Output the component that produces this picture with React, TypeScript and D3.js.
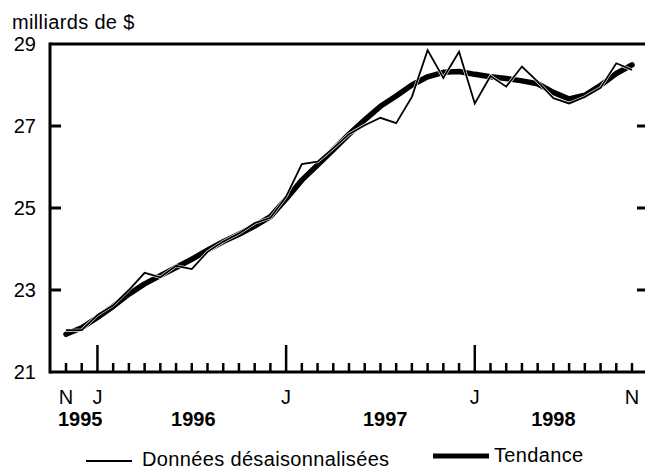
import React from "react";
import * as d3 from "d3";

// Monthly data, Nov 1995 .. Nov 1998 (37 months)
const months = [
  "1995-11", "1995-12",
  "1996-01", "1996-02", "1996-03", "1996-04", "1996-05", "1996-06",
  "1996-07", "1996-08", "1996-09", "1996-10", "1996-11", "1996-12",
  "1997-01", "1997-02", "1997-03", "1997-04", "1997-05", "1997-06",
  "1997-07", "1997-08", "1997-09", "1997-10", "1997-11", "1997-12",
  "1998-01", "1998-02", "1998-03", "1998-04", "1998-05", "1998-06",
  "1998-07", "1998-08", "1998-09", "1998-10", "1998-11",
];

const seasonallyAdjusted = [
  22.02, 22.02, 22.39, 22.63, 23.0, 23.42, 23.31, 23.59, 23.51, 23.93,
  24.18, 24.38, 24.63, 24.76, 25.28, 26.07, 26.13, 26.46, 26.8, 27.02,
  27.2, 27.07, 27.71, 28.85, 28.17, 28.81, 27.55, 28.22, 27.96, 28.45,
  28.08, 27.68, 27.55, 27.71, 27.93, 28.53, 28.37,
];

const trend = [
  21.92, 22.08, 22.33, 22.6, 22.9, 23.15, 23.35, 23.55, 23.75, 23.97,
  24.18, 24.36, 24.56, 24.79, 25.22, 25.68, 26.05, 26.42, 26.8, 27.15,
  27.48, 27.73, 28.0, 28.2, 28.31, 28.33, 28.26, 28.2, 28.16, 28.1,
  28.03, 27.82, 27.66, 27.75, 27.99, 28.28, 28.49,
];

const yTicks = [21, 23, 25, 27, 29];
const monthLabels = [
  { i: 0, label: "N" },
  { i: 2, label: "J" },
  { i: 14, label: "J" },
  { i: 26, label: "J" },
  { i: 36, label: "N" },
];
const yearLabels = [
  { at: 0.9, label: "1995" },
  { at: 8.1, label: "1996" },
  { at: 20.3, label: "1997" },
  { at: 31.0, label: "1998" },
];
const unitLabel = "milliards de $";
const legendLabels = ["Données désaisonnalisées", "Tendance"];

const W = 645;
const H = 476;
const FONT = "'Liberation Sans', Arial, Helvetica, sans-serif";
const FS = 20;
const LS = 0.35;

export default function App() {
  const left = 50;
  const top = 44;
  const bottom = 372;
  const right = W;

  const x = d3.scaleLinear().domain([0, months.length - 1]).range([66, 632]);
  const y = d3.scaleLinear().domain([21, 29]).range([bottom, top]);

  const line = d3
    .line<number>()
    .x((_, i) => x(i))
    .y((d) => y(d));

  return (
    <div style={{ position: "fixed", left: 0, top: 0 }}>
      <svg width={W} height={H} style={{ display: "block", background: "#fff" }}>
        <rect width={W} height={H} fill="#fff" />
        <text x={12} y={29} fontFamily={FONT} fontSize={FS} letterSpacing={LS} fill="#000">
          {unitLabel}
        </text>

        {/* y tick labels */}
        {yTicks.map((t) => (
          <text
            key={t}
            x={36}
            y={y(t) + 7}
            textAnchor="end"
            fontFamily={FONT}
            fontSize={FS}
            fill="#000"
          >
            {t}
          </text>
        ))}

        {/* inner y ticks (left and right) */}
        {yTicks
          .filter((t) => t !== 21 && t !== 29)
          .map((t) => (
            <g key={"yt" + t}>
              <line x1={left} x2={left + 11} y1={y(t)} y2={y(t)} stroke="#000" strokeWidth={3} />
              <line x1={right - 8} x2={right} y1={y(t)} y2={y(t)} stroke="#000" strokeWidth={3} />
            </g>
          ))}

        {/* month ticks */}
        {months.map((m, i) => {
          const isJan = m.endsWith("-01");
          return (
            <line
              key={m}
              x1={x(i)}
              x2={x(i)}
              y1={bottom}
              y2={isJan ? 345 : 363}
              stroke="#000"
              strokeWidth={2.5}
            />
          );
        })}

        {/* frame */}
        <line x1={left} x2={right} y1={top} y2={top} stroke="#000" strokeWidth={3} />
        <line x1={left} x2={right} y1={bottom} y2={bottom} stroke="#000" strokeWidth={3} />
        <line x1={left} x2={left} y1={top - 1.5} y2={bottom + 1.5} stroke="#000" strokeWidth={3} />

        {/* series */}
        <path d={line(trend) || ""} fill="none" stroke="#000" strokeWidth={5.5} strokeLinejoin="round" strokeLinecap="round" />
        <path d={line(seasonallyAdjusted) || ""} fill="none" stroke="#fff" strokeWidth={3} strokeLinejoin="miter" />
        <path d={line(seasonallyAdjusted) || ""} fill="none" stroke="#000" strokeWidth={1.8} strokeLinejoin="miter" />

        {/* month labels */}
        {monthLabels.map((d) => (
          <text
            key={"ml" + d.i}
            x={x(d.i)}
            y={404}
            textAnchor="middle"
            fontFamily={FONT}
            fontSize={FS}
            fill="#000"
          >
            {d.label}
          </text>
        ))}

        {/* year labels */}
        {yearLabels.map((d) => (
          <text
            key={d.label}
            x={x(d.at)}
            y={426}
            textAnchor="middle"
            fontFamily={FONT}
            fontSize={FS}
            fontWeight="bold"
            fill="#000"
          >
            {d.label}
          </text>
        ))}

        {/* legend */}
        <line x1={86} x2={132} y1={461} y2={461} stroke="#000" strokeWidth={2} />
        <text x={142} y={466} fontFamily={FONT} fontSize={FS} letterSpacing={LS} fill="#000">
          {legendLabels[0]}
        </text>
        <line x1={433} x2={489} y1={456} y2={456} stroke="#000" strokeWidth={5} />
        <text x={494} y={462} fontFamily={FONT} fontSize={FS} letterSpacing={LS} fill="#000">
          {legendLabels[1]}
        </text>
      </svg>
    </div>
  );
}
